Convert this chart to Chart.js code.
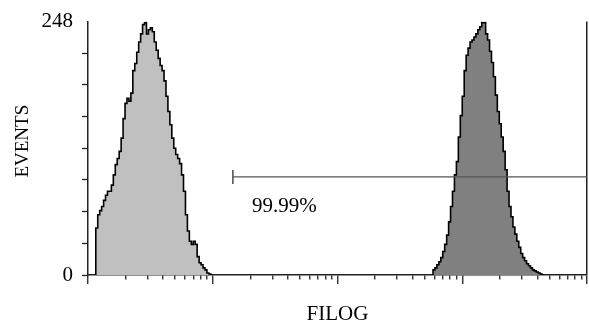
<!DOCTYPE html>
<html>
<head>
<meta charset="utf-8">
<script src="https://cdn.jsdelivr.net/npm/chart.js@4.4.1/dist/chart.umd.min.js"></script>
<style>
  html, body { margin: 0; padding: 0; background: #fff; overflow: hidden; }
  #wrap { width: 589px; height: 325px; position: relative; }
</style>
</head>
<body>
<div id="wrap"><canvas id="histChart"></canvas></div>
<script>
// 256 log channels over 4 decades, counts
const channelsPerDecade = 64;

const leftStart = 4;
const leftCounts = [
    17, 46, 59, 63, 67, 73, 78, 82, 82, 88,
    98, 108, 114, 121, 134, 153, 168, 173, 170, 178,
    200, 207, 218, 228, 236, 245, 247, 236, 240, 242,
    238, 228, 220, 212, 205, 200, 190, 175, 160, 147,
    134, 124, 118, 114, 109, 98, 82, 59, 43, 33,
    30, 33, 30, 18, 12, 10, 7, 5, 2, 1
];

const rightStart = 177;
const rightCounts = [
    4, 5, 7, 10, 13, 17, 23, 30, 39, 52,
    67, 82, 98, 111, 135, 156, 175, 200, 215, 222,
    228, 230, 233, 236, 240, 243, 247, 247, 236, 230,
    219, 208, 194, 176, 160, 148, 135, 121, 103, 82,
    67, 57, 47, 40, 33, 27, 21, 17, 14, 11,
    9, 7, 5, 4, 3, 2, 1
];

const yMax = 248;
const yStep = 31;
const yTickValues = [0, 248];
const yTickLabels = ['0', '248'];
const decades = [1, 10, 100, 1000, 10000];
const minorSteps = [2, 3, 4, 5, 6, 7, 8, 9];

// marker gate
const markerStart = 14.5;
const markerEnd = 10000;
const markerLevel = 96;
const markerLabel = '99.99%';

const xTitle = 'FILOG';
const yTitle = '   EVENTS';

const serif = "'Liberation Serif', 'DejaVu Serif', serif";
const axisColor = '#222';

function channelValue(ch) {
    return Math.pow(10, ch / channelsPerDecade);
}

function histPoints(start, counts) {
    const pts = [{ x: channelValue(start), y: 0 }];
    counts.forEach((c, i) => pts.push({ x: channelValue(start + i), y: c }));
    pts.push({ x: channelValue(start + counts.length), y: 0 });
    return pts;
}

// tick list for the log axis: decades are major, 2..9 minor
const xTicks = [];
decades.forEach((d, i) => {
    xTicks.push({ value: d, major: true });
    if (i < decades.length - 1) {
        minorSteps.forEach(m => xTicks.push({ value: d * m, major: false }));
    }
});

const markerText = {
    id: 'markerText',
    afterDatasetsDraw(chart) {
        const c = chart.ctx;
        const x = chart.scales.x.getPixelForValue(markerStart);
        const y = chart.scales.y.getPixelForValue(markerLevel);
        c.save();
        c.font = '21px ' + serif;
        c.fillStyle = '#000';
        c.textAlign = 'left';
        c.textBaseline = 'middle';
        c.fillText(markerLabel, x + 19, y + 30);
        c.restore();
    }
};

const ctx = document.getElementById('histChart').getContext('2d');
const histChart = new Chart(ctx, {
    type: 'line',
    data: {
        datasets: [
            {
                label: 'marker',
                data: [{ x: markerStart, y: markerLevel }, { x: markerEnd, y: markerLevel }],
                borderColor: '#555',
                borderWidth: 1.4,
                pointStyle: 'line',
                rotation: 90,
                pointRadius: [7, 0],
                pointBorderColor: '#555',
                pointBorderWidth: 1.6,
                fill: false
            },
            {
                label: 'stained',
                data: histPoints(rightStart, rightCounts),
                stepped: 'after',
                borderColor: '#000',
                borderWidth: 1.6,
                backgroundColor: '#808080',
                pointRadius: 0,
                fill: 'origin'
            },
            {
                label: 'control',
                data: histPoints(leftStart, leftCounts),
                stepped: 'after',
                borderColor: '#000',
                borderWidth: 1.6,
                backgroundColor: '#c0c0c0',
                pointRadius: 0,
                fill: 'origin'
            }
        ]
    },
    options: {
        responsive: true,
        maintainAspectRatio: false,
        animation: false,
        layout: { autoPadding: false, padding: { top: 20, left: 0, right: 2, bottom: 0 } },
        plugins: {
            legend: { display: false },
            tooltip: { enabled: false }
        },
        scales: {
            x: {
                type: 'logarithmic',
                min: 1,
                max: 10000,
                afterBuildTicks: (scale) => { scale.ticks = xTicks.map(t => ({ ...t })); },
                afterFit: (scale) => { scale.height = 50; },
                ticks: { display: false },
                grid: {
                    // only the last decade line is drawn across: the right frame
                    drawOnChartArea: true,
                    color: (c) => (c.tick && c.tick.value === markerEnd ? axisColor : 'rgba(0,0,0,0)'),
                    lineWidth: 1.5,
                    tickLength: 9,
                    tickColor: axisColor,
                    tickWidth: 1.3,
                    tickBorderDash: (c) => (c.tick && c.tick.major ? [] : [4, 50])
                },
                border: { color: axisColor, width: 1.5 },
                title: {
                    display: true,
                    text: xTitle,
                    color: '#000',
                    font: { family: serif, size: 21, lineHeight: 1 },
                    padding: { top: 0, bottom: 0 }
                }
            },
            y: {
                min: 0,
                max: yMax,
                afterFit: (scale) => { scale.width = 88; },
                ticks: {
                    stepSize: yStep,
                    autoSkip: false,
                    padding: 9,
                    color: '#000',
                    font: { family: serif, size: 21 },
                    callback: (value) => {
                        const i = yTickValues.indexOf(value);
                        return i >= 0 ? yTickLabels[i] : '';
                    }
                },
                grid: {
                    drawOnChartArea: false,
                    tickLength: 6,
                    tickWidth: 1.3,
                    tickColor: (c) => (c.tick && c.tick.value === yMax ? 'rgba(0,0,0,0)' : axisColor)
                },
                border: { color: axisColor, width: 1.5 },
                title: {
                    display: true,
                    text: yTitle,
                    color: '#000',
                    font: { family: serif, size: 19 },
                    padding: { top: 12, bottom: 0 }
                }
            }
        }
    },
    plugins: [markerText]
});
</script>
</body>
</html>
